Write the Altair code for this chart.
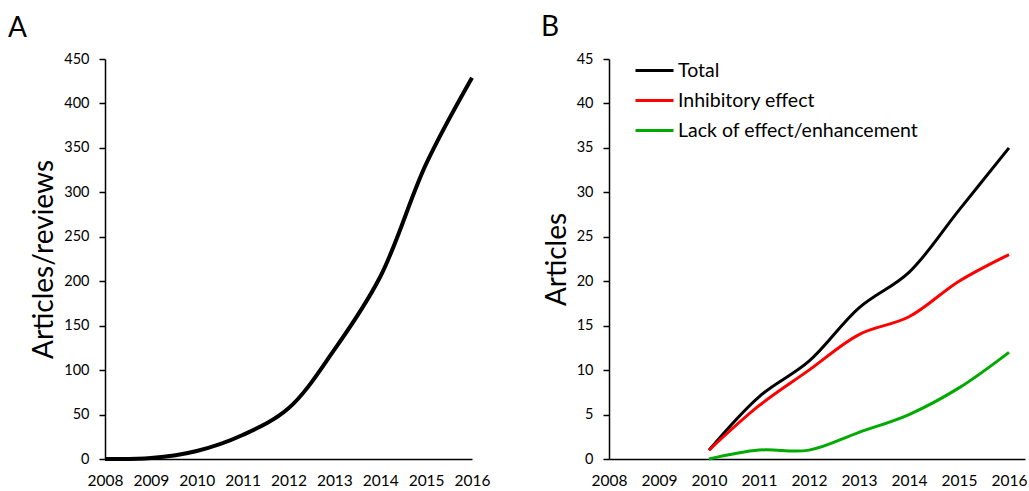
import altair as alt
import pandas as pd

# Panel A: cumulative articles/reviews per year
years_a = [2008, 2009, 2010, 2011, 2012, 2013, 2014, 2015, 2016]
articles_reviews = [0, 1, 9, 27, 57, 123, 205, 332, 429]

# Panel B: cumulative articles by reported effect
years_b = [2010, 2011, 2012, 2013, 2014, 2015, 2016]
total = [1, 7, 11, 17, 21, 28, 35]
inhibitory = [1, 6, 10, 14, 16, 20, 23]
lack_enh = [0, 1, 1, 3, 5, 8, 12]

series_names = ["Total", "Inhibitory effect", "Lack of effect/enhancement"]
series_colors = ["#000000", "#FF0000", "#00AA00"]
year_ticks = list(range(2008, 2017))

FONT = "Lato"

df_a = pd.DataFrame({"year": years_a, "value": articles_reviews})
df_b = pd.concat([
    pd.DataFrame({"year": years_b, "value": vals, "series": name})
    for name, vals in zip(series_names, [total, inhibitory, lack_enh])
])


def x_axis():
    return alt.Axis(values=year_ticks, format="d", grid=False, ticks=False,
                    labelPadding=14, labelFontSize=15.5, labelFont=FONT,
                    labelColor="#000000", domainColor="#000000",
                    domainWidth=1.5, title=None, labelOverlap=False,
                    labelFlush=False)


def y_axis(title, step_vals, title_pad):
    return alt.Axis(values=step_vals, grid=False, ticks=True, tickSize=6,
                    tickColor="#000000", tickWidth=1.5, labelPadding=10,
                    labelFontSize=14.5, labelFont=FONT, labelColor="#000000",
                    domainColor="#000000", domainWidth=1.5, title=title,
                    titleFont=FONT, titleFontSize=28, titleFontWeight="normal",
                    titleColor="#000000", titlePadding=title_pad,
                    labelFlush=False)


panel_a = alt.Chart(df_a).mark_line(
    interpolate="catmull-rom", color="#000000", strokeWidth=4
).encode(
    x=alt.X("year:Q", scale=alt.Scale(domain=[2008, 2016], nice=False, zero=False),
            axis=x_axis()),
    y=alt.Y("value:Q", scale=alt.Scale(domain=[0, 450], nice=False),
            axis=y_axis("Articles/reviews", list(range(0, 451, 50)), 5)),
).properties(
    width=367, height=400,
    title=alt.TitleParams("A", anchor="start", frame="group", dx=-97,
                          offset=8, fontSize=28, font=FONT,
                          fontWeight="normal", color="#000000"),
)

panel_b = alt.Chart(df_b).mark_line(
    interpolate="catmull-rom", strokeWidth=3
).encode(
    x=alt.X("year:Q", scale=alt.Scale(domain=[2008, 2016.32], nice=False, zero=False),
            axis=x_axis()),
    y=alt.Y("value:Q", scale=alt.Scale(domain=[0, 45], nice=False),
            axis=y_axis("Articles", list(range(0, 46, 5)), 5)),
    color=alt.Color(
        "series:N",
        scale=alt.Scale(domain=series_names, range=series_colors),
        legend=alt.Legend(
            title=None, orient="none", legendX=25, legendY=-9,
            symbolType="stroke", symbolSize=1444, symbolStrokeWidth=3,
            labelFontSize=19.5, labelFont=FONT, labelColor="#000000",
            rowPadding=-12, labelOffset=3, labelLimit=400, padding=0,
        ),
    ),
).properties(
    width=416, height=400,
    title=alt.TitleParams("B", anchor="start", frame="group", dx=-68,
                          offset=8, fontSize=28, font=FONT,
                          fontWeight="normal", color="#000000"),
)

chart = alt.hconcat(panel_a, panel_b, spacing=137, bounds="flush").resolve_legend(
    color="independent"
).properties(
    padding={"left": 8, "top": 14, "right": 0, "bottom": 0}
).configure_view(stroke=None).configure_title(baseline="alphabetic")

chart.save("out.html", embed_options={"renderer": "svg", "actions": False})
